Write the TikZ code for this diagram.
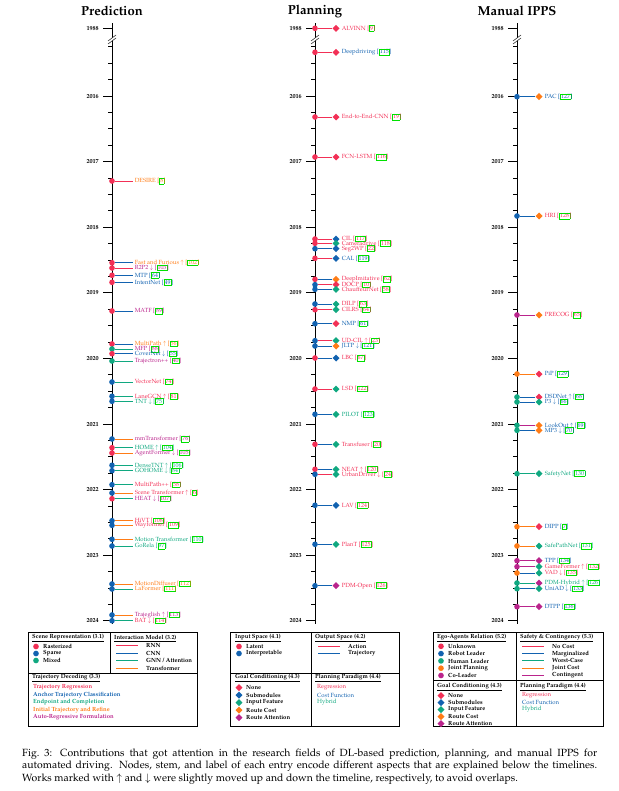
\documentclass[tikz,border=0pt]{standalone}
\usepackage[T1]{fontenc}
\usepackage{mathpazo}
\usepackage{xcolor}
\usetikzlibrary{shapes.geometric,positioning}

\definecolor{cR}{RGB}{242,48,86}
\definecolor{cB}{RGB}{18,98,176}
\definecolor{cG}{RGB}{16,168,128}
\definecolor{cO}{RGB}{255,124,22}
\definecolor{cM}{RGB}{186,36,140}
\definecolor{citegreen}{RGB}{0,225,0}

\newcommand{\entryfont}{\fontsize{5.5}{6}\selectfont}
\newcommand{\legfont}{\fontsize{5.5}{6}\selectfont\bfseries}
\newcommand{\cbox}[1]{\colorlet{cboxtext}{.}{\color{citegreen}\setlength{\fboxsep}{0.4pt}\setlength{\fboxrule}{0.45pt}\fbox{\color{cboxtext}#1}}\kern-0.5pt]}

\tikzset{
  dotmark/.style={circle, fill=#1, inner sep=0pt, minimum size=5.2pt},
  goalmark/.style={diamond, fill=#1, inner sep=0pt, minimum size=6.6pt},
  stem/.style={draw=#1, line width=0.7pt},
  entry/.style={text=#1, font=\entryfont, inner sep=0.5pt, anchor=west},
  axisline/.style={line width=0.9pt},
  tickline/.style={line width=0.7pt},
  yearlabel/.style={font=\fontsize{5.6}{6}\selectfont\bfseries, anchor=east, inner sep=0pt},
  coltitle/.style={font=\fontsize{12}{14}\selectfont\bfseries, inner sep=0pt},
  legbox/.style={line width=0.8pt},
  legtitle/.style={font=\legfont, anchor=west, inner sep=0pt},
  legtext/.style={font=\legfont, anchor=west, inner sep=0pt},
  legline/.style={draw=#1, line width=0.8pt},
}

% time axis: x position, node key, title
\newcommand{\timeline}[3]{
  \node[coltitle] (title-#2) at (#1,11) {#3};
  \draw[axisline] (#1,23) -- (#1,624);
  \draw[tickline] (#1-9,28) -- (#1,28);
  \node[yearlabel] (y-#2-1988) at (#1-13,28) {1988};
  \foreach \k in {0,...,8} {
    \pgfmathtruncatemacro\yr{2016+\k}
    \draw[tickline] (#1-9,96+65.6*\k) -- (#1,96+65.6*\k);
    \node[yearlabel] (y-#2-\yr) at (#1-13,96+65.6*\k) {\yr};
  }
  \foreach \j in {1,...,35} {
    \pgfmathtruncatemacro\jm{mod(\j,4)}
    \ifnum\jm>0 \draw[tickline] (#1-4,30.4+16.4*\j) -- (#1,30.4+16.4*\j); \fi
  }
  % axis break
  \fill[white] (#1-4,41) -- (#1+4,35) -- (#1+4,38) -- (#1-4,44) -- cycle;
  \draw[line width=0.4pt] (#1-4,41) -- (#1+4,35);
  \draw[line width=0.4pt] (#1-4,44) -- (#1+4,38);
}

\begin{document}
\begin{tikzpicture}[x=0.92pt, y=-0.92pt]
\useasboundingbox (0,0) rectangle (619,791);

\timeline{112}{pred}{Prediction}
\timeline{315}{plan}{Planning}
\timeline{517}{ipps}{Manual IPPS}

% prediction entries: y / scene / interaction / decoding / label / cite
\foreach \y/\dc/\sc/\lc/\lab/\cit [count=\i] in {
  181/cR/cR/cO/DESIRE/8,
  262.7/cR/cB/cO/{Fast and Furious $\uparrow$}/102,
  268/cR/cR/cM/{R2P2 $\downarrow$}/103,
  275.3/cR/cB/cB/MTP/64,
  282.3/cR/cB/cB/IntentNet/49,
  311/cR/cB/cM/MATF/89,
  344/cR/cB/cO/{MultiPath $\uparrow$}/56,
  349/cG/cG/cM/MFP/88,
  353.7/cR/cB/cB/{CoverNet $\downarrow$}/55,
  361/cG/cG/cM/Trajectron++/40,
  382/cB/cG/cR/VectorNet/74,
  396.3/cB/cG/cR/{LaneGCN $\uparrow$}/81,
  401.3/cB/cG/cG/{TNT $\downarrow$}/75,
  439/cB/cO/cM/mmTransformer/76,
  447.7/cR/cG/cG/{HOME $\uparrow$}/104,
  453/cR/cO/cM/{AgentFormer $\downarrow$}/105,
  465.3/cB/cG/cG/{DenseTNT $\uparrow$}/106,
  470.7/cB/cG/cG/{GOHOME $\downarrow$}/84,
  484.7/cB/cG/cR/MultiPath++/58,
  493/cB/cO/cR/{Scene Transformer $\uparrow$}/6,
  498.7/cR/cG/cM/{HEAT $\downarrow$}/107,
  520.7/cB/cO/cR/HiVT/108,
  525.3/cB/cO/cR/Wayformer/109,
  539.3/cB/cO/cG/{Motion Transformer}/110,
  546/cB/cG/cG/GoRela/97,
  584/cB/cO/cO/MotionDiffuser/112,
  589/cB/cG/cO/LaFormer/111,
  615/cB/cO/cM/{Trajeglish $\uparrow$}/113,
  620.7/cB/cG/cR/{BAT $\downarrow$}/114} {
  \node[dotmark=\dc] (pa-\i) at (112,\y) {};
  \coordinate (ps-\i) at (133,\y);
  \draw[stem=\sc] (pa-\i) -- (ps-\i);
  \node[entry=\lc] (pl-\i) at (134,\y) {\lab~[\cbox{\cit}};
}

% planning entries: y / input / output / goal / paradigm / label / cite
\foreach \y/\dc/\sc/\ec/\lc/\lab/\cit [count=\i] in {
  28.3/cR/cR/cR/cR/ALVINN/9,
  52.3/cR/cR/cR/cB/Deepdriving/115,
  117/cR/cR/cR/cR/End-to-End-CNN/19,
  157/cR/cR/cR/cR/FCN-LSTM/116,
  239/cR/cR/cB/cR/CIL/117,
  243.3/cR/cR/cG/cR/Cameradrive/118,
  248.7/cB/cB/cB/cR/Seg2WP/22,
  258.3/cR/cR/cB/cB/CAL/119,
  279.3/cR/cB/cO/cR/DeepImitative/62,
  284.7/cB/cR/cR/cR/DOCP/10,
  289.3/cB/cB/cG/cR/ChauffeurNet/58,
  304/cB/cB/cG/cR/DILP/63,
  309.7/cR/cR/cG/cR/CILRS/64,
  323.7/cB/cB/cR/cB/NMP/61,
  340.7/cB/cR/cG/cR/{UD-CIL $\uparrow$}/23,
  346/cB/cB/cO/cB/{JLTP $\downarrow$}/121,
  358/cR/cB/cB/cR/LBC/67,
  389/cR/cR/cG/cR/LSD/122,
  414.3/cB/cB/cG/cG/PILOT/123,
  444.3/cR/cB/cG/cR/Transfuser/20,
  469.3/cR/cB/cG/cR/{NEAT $\uparrow$}/120,
  474.3/cB/cR/cG/cR/{UrbanDriver $\downarrow$}/24,
  505.3/cB/cB/cB/cR/LAV/124,
  544.3/cB/cB/cG/cR/PlanT/125,
  585.7/cB/cB/cM/cR/PDM-Open/126} {
  \node[dotmark=\dc] (qa-\i) at (315,\y) {};
  \node[goalmark=\ec] (qe-\i) at (336,\y) {};
  \draw[stem=\sc] (qa-\i) -- (qe-\i);
  \node[entry=\lc] (ql-\i) at (341,\y) {\lab~[\cbox{\cit}};
}

% manual IPPS entries: y / relation / safety / goal / paradigm / label / cite
\foreach \y/\dc/\sc/\ec/\lc/\lab/\cit [count=\i] in {
  96.7/cB/cB/cO/cB/PAC/127,
  216/cB/cB/cO/cR/HRI/128,
  315/cM/cM/cO/cR/PRECOG/65,
  374/cO/cO/cR/cB/PiP/129,
  397/cG/cB/cR/cB/{DSDNet $\uparrow$}/68,
  402/cG/cB/cG/cB/{P3 $\downarrow$}/66,
  425.3/cG/cM/cO/cB/{LookOut $\uparrow$}/69,
  430.3/cG/cB/cO/cB/{MP3 $\downarrow$}/70,
  473.7/cG/cG/cG/cG/SafetyNet/130,
  526.7/cO/cO/cR/cB/DIPP/7,
  546/cO/cO/cG/cG/SafePathNet/131,
  560.7/cM/cM/cM/cB/TPP/134,
  566.7/cM/cM/cG/cR/{GameFormer $\uparrow$}/132,
  573/cO/cB/cG/cR/{VAD $\downarrow$}/135,
  583/cG/cG/cM/cG/{PDM-Hybrid $\uparrow$}/126,
  588.7/cG/cB/cG/cB/{UniAD $\downarrow$}/133,
  606.7/cM/cM/cM/cB/DTPP/136} {
  \node[dotmark=\dc] (ra-\i) at (517,\y) {};
  \node[goalmark=\ec] (re-\i) at (539,\y) {};
  \draw[stem=\sc] (ra-\i) -- (re-\i);
  \node[entry=\lc] (rl-\i) at (544,\y) {\lab~[\cbox{\cit}};
}

% legend: prediction
\draw[legbox] (28,632) rectangle (197,726);
\draw[legbox] (28,673) -- (197,673);
\draw[legbox] (110,632) -- (110,673);
\node[legtitle] (sr-t) at (32,638) {\underline{Scene Representation (3.1)}};
\foreach \c/\t [count=\i] in {cR/Rasterized, cB/Sparse, cG/Mixed} {
  \node[dotmark=\c] (sr-d\i) at (36,639.5+7*\i) {};
  \node[legtext] (sr-\i) at (43,639.5+7*\i) {\t};
}
\node[legtitle] (im-t) at (114,638) {\underline{Interaction Model (3.2)}};
\foreach \c/\t [count=\i] in {cR/RNN, cB/CNN, cG/{GNN / Attention}, cO/Transformer} {
  \coordinate (im-a\i) at (116,638+7.5*\i);
  \coordinate (im-b\i) at (138,638+7.5*\i);
  \draw[legline=\c] (im-a\i) -- (im-b\i);
  \node[legtext] (im-\i) at (146,638+7.5*\i) {\t};
}
\node[legtitle] (td-t) at (32,678) {\underline{Trajectory Decoding (3.3)}};
\foreach \c/\t [count=\i] in {cR/Trajectory Regression, cB/Anchor Trajectory Classification,
  cG/Endpoint and Completion, cO/Initial Trajectory and Refine, cM/Auto-Regressive Formulation} {
  \node[legtext, text=\c] (td-\i) at (33,680+7.5*\i) {\t};
}

% legend: planning
\draw[legbox] (230,632) rectangle (399,726);
\draw[legbox] (230,673) -- (399,673);
\draw[legbox] (311,632) -- (311,726);
\node[legtitle] (is-t) at (235,638) {\underline{Input Space (4.1)}};
\foreach \c/\t [count=\i] in {cR/Latent, cB/Interpretable} {
  \node[dotmark=\c] (is-d\i) at (239,639.5+7*\i) {};
  \node[legtext] (is-\i) at (246,639.5+7*\i) {\t};
}
\node[legtitle] (os-t) at (315,638) {\underline{Output Space (4.2)}};
\foreach \c/\t [count=\i] in {cR/Action, cB/Trajectory} {
  \coordinate (os-a\i) at (318,638.5+7.5*\i);
  \coordinate (os-b\i) at (340,638.5+7.5*\i);
  \draw[legline=\c] (os-a\i) -- (os-b\i);
  \node[legtext] (os-\i) at (348,638.5+7.5*\i) {\t};
}
\node[legtitle] (gc-t) at (235,678) {\underline{Goal Conditioning (4.3)}};
\foreach \c/\t [count=\i] in {cR/None, cB/Submodules, cG/Input Feature, cO/Route Cost, cM/Route Attention} {
  \node[goalmark=\c] (gc-d\i) at (239,680+7.5*\i) {};
  \node[legtext] (gc-\i) at (246,680+7.5*\i) {\t};
}
\node[legtitle] (pp-t) at (315,678) {\underline{Planning Paradigm (4.4)}};
\foreach \c/\t [count=\i] in {cR/Regression, cB/Cost Function, cG/Hybrid} {
  \node[legtext, font=\entryfont, text=\c] (pp-\i) at (317,680+7.5*\i) {\t};
}

% legend: manual IPPS
\draw[legbox] (433,632) rectangle (603,726);
\draw[legbox] (433,680) -- (603,680);
\draw[legbox] (516,632) -- (516,726);
\node[legtitle] (ea-t) at (437,638) {\underline{Ego-Agents Relation (5.2)}};
\foreach \c/\t [count=\i] in {cR/Unknown, cB/Robot Leader, cG/Human Leader, cO/Joint Planning, cM/Co-Leader} {
  \node[dotmark=\c] (ea-d\i) at (441,639+7.3*\i) {};
  \node[legtext] (ea-\i) at (448,639+7.3*\i) {\t};
}
\node[legtitle] (sc-t) at (520,638) {\underline{Safety \& Contingency (5.3)}};
\foreach \c/\t [count=\i] in {cR/No Cost, cB/Marginalized, cG/Worst-Case, cO/Joint Cost, cM/Contingent} {
  \coordinate (sc-a\i) at (522,639+7.3*\i);
  \coordinate (sc-b\i) at (544,639+7.3*\i);
  \draw[legline=\c] (sc-a\i) -- (sc-b\i);
  \node[legtext] (sc-\i) at (552,639+7.3*\i) {\t};
}
\node[legtitle] (gm-t) at (437,687) {\underline{Goal Conditioning (4.3)}};
\foreach \c/\t [count=\i] in {cR/None, cB/Submodules, cG/Input Feature, cO/Route Cost, cM/Route Attention} {
  \node[goalmark=\c] (gm-d\i) at (441,688.5+7*\i) {};
  \node[legtext] (gm-\i) at (448,688.5+7*\i) {\t};
}
\node[legtitle] (pm-t) at (520,687) {\underline{Planning Paradigm (4.4)}};
\foreach \c/\t [count=\i] in {cR/Regression, cB/Cost Function, cG/Hybrid} {
  \node[legtext, font=\entryfont, text=\c] (pm-\i) at (522,688.5+7*\i) {\t};
}

% caption
\node[anchor=north west, inner sep=0pt, text width=529pt, align=justify,
  font=\fontsize{9.6}{11.2}\selectfont] (caption) at (22,749)
  {Fig.~3: Contributions that got attention in the research fields of DL-based prediction, planning, and manual IPPS for\linebreak
   automated driving. Nodes, stem, and label of each entry encode different aspects that are explained below the timelines.\linebreak
   Works marked with $\uparrow$ and $\downarrow$ were slightly moved up and down the timeline, respectively, to avoid overlaps.};
\end{tikzpicture}
\end{document}
